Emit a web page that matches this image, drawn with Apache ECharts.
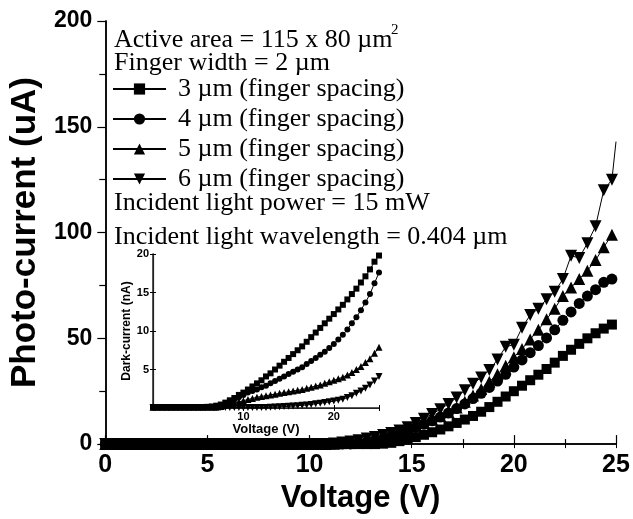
<!DOCTYPE html>
<html>
<head>
<meta charset="utf-8">
<title>Photo-current vs Voltage</title>
<script src="https://cdn.jsdelivr.net/npm/echarts@6.0.0/dist/echarts.min.js"></script>
<style>
  html, body { margin: 0; padding: 0; background: #fff; }
  #chart { width: 633px; height: 519px; }
</style>
</head>
<body>
<div id="chart"></div>
<script>
// ---- main plot data: photo-current (uA) vs voltage (V) ----
var voltage = [0.0, 0.4, 0.8, 1.2, 1.6, 2.0, 2.4, 2.8, 3.2, 3.6, 4.0, 4.4, 4.8, 5.2, 5.6, 6.0,
  6.4, 6.8, 7.2, 7.6, 8.0, 8.4, 8.8, 9.2, 9.6, 10.0, 10.4, 10.8, 11.2, 11.6, 12.0, 12.4,
  12.8, 13.2, 13.6, 14.0, 14.4, 14.8, 15.2, 15.6, 16.0, 16.4, 16.8, 17.2, 17.6, 18.0, 18.4,
  18.8, 19.2, 19.6, 20.0, 20.4, 20.8, 21.2, 21.6, 22.0, 22.4, 22.8, 23.2, 23.6, 24.0, 24.4, 24.8];

var photo3 = [0, 0, 0, 0, 0, 0, 0, 0, 0, 0, 0, 0, 0, 0, 0, 0,
  0, 0, 0, 0, 0, 0, 0, 0, 0, 0, 0, 0, 0, 0, 0, 0,
  0, 0, 0.2, 0.6, 1.4, 2.3, 3.3, 4.4, 5.6, 6.9, 8.4, 10.0, 11.6, 13.3, 15.3,
  17.5, 20.0, 22.5, 25.0, 27.6, 30.2, 32.8, 35.5, 38.5, 41.7, 44.6, 47.4, 50.0, 52.4, 54.6, 56.5];

var photo4 = [0, 0, 0, 0, 0, 0, 0, 0, 0, 0, 0, 0, 0, 0, 0, 0,
  0, 0, 0, 0, 0, 0, 0, 0, 0, 0, 0, 0, 0, 0, 0.1, 0.4,
  1.0, 1.8, 2.7, 3.8, 5.0, 6.4, 7.9, 9.4, 11.0, 12.8, 14.7, 16.8, 19.0, 21.5, 24.0,
  26.8, 29.8, 33.0, 36.4, 39.8, 43.2, 46.6, 50.2, 54.0, 58.5, 62.5, 66.5, 70.0, 73.0, 76.5, 78.0];

var photo5 = [0, 0, 0, 0, 0, 0, 0, 0, 0, 0, 0, 0, 0, 0, 0, 0,
  0, 0, 0, 0, 0, 0, 0, 0, 0, 0, 0, 0, 0.2, 0.5, 1.0, 1.5,
  2.2, 3.0, 3.9, 4.9, 6.0, 7.2, 8.5, 10.0, 11.6, 13.3, 15.2, 17.3, 20.0, 23.0, 26.0,
  29.5, 33.0, 37.0, 41.0, 45.0, 49.5, 54.0, 59.0, 64.0, 70.0, 74.0, 78.0, 82.0, 87.0, 93.0, 99.0];

var photo6 = [0, 0, 0, 0, 0, 0, 0, 0, 0, 0, 0, 0, 0, 0, 0, 0,
  0, 0, 0, 0, 0, 0, 0, 0, 0, 0, 0, 0, 0.3, 0.7, 1.2, 1.8,
  2.6, 3.4, 4.3, 5.3, 6.4, 8.0, 10.0, 12.0, 14.2, 16.5, 19.0, 22.0, 25.5, 28.5, 31.5,
  35.0, 40.0, 46.0, 47.0, 55.0, 61.0, 64.0, 68.5, 72.0, 78.0, 89.0, 88.0, 95.0, 103.0, 120.0, 125.0];
// last reading of the 6 um curve, the line runs up to it at the axis edge
var photo6End = [25.0, 143];

// ---- inset data: dark-current (nA) vs voltage (V) ----
var insetVoltage = [0, 0.5, 1, 1.5, 2, 2.5, 3, 3.5, 4, 4.5, 5, 5.5, 6, 6.5, 7, 7.5, 8, 8.5,
  9, 9.5, 10, 10.5, 11, 11.5, 12, 12.5, 13, 13.5, 14, 14.5, 15, 15.5, 16, 16.5, 17, 17.5,
  18, 18.5, 19, 19.5, 20, 20.5, 21, 21.5, 22, 22.5, 23, 23.5, 24, 24.5, 25];

var dark3 = [0.1, 0.1, 0.1, 0.1, 0.1, 0.1, 0.1, 0.1, 0.1, 0.1, 0.1, 0.1, 0.15, 0.2, 0.3, 0.45,
  0.7, 1.0, 1.3, 1.7, 2.0, 2.4, 2.8, 3.2, 3.6, 4.1, 4.5, 5.0, 5.5, 6.0, 6.5, 7.0, 7.5, 8.0,
  8.6, 9.2, 9.8, 10.4, 11.0, 11.6, 12.2, 12.8, 13.4, 14.1, 14.8, 15.5, 16.3, 17.1, 18.0, 19.0, 19.8];

var dark4 = [0.1, 0.1, 0.1, 0.1, 0.1, 0.1, 0.1, 0.1, 0.1, 0.1, 0.1, 0.1, 0.1, 0.1, 0.1, 0.3,
  0.5, 0.8, 1.1, 1.4, 1.7, 2.0, 2.2, 2.4, 2.7, 2.9, 3.2, 3.5, 3.8, 4.1, 4.4, 4.7, 5.0, 5.3,
  5.7, 6.1, 6.5, 6.9, 7.3, 7.8, 8.3, 8.9, 9.5, 10.2, 11.0, 11.8, 12.7, 13.7, 14.8, 16.2, 17.6];

var dark5 = [0.1, 0.1, 0.1, 0.1, 0.1, 0.1, 0.1, 0.1, 0.1, 0.1, 0.1, 0.1, 0.1, 0.1, 0.1, 0.2,
  0.35, 0.5, 0.65, 0.8, 0.95, 1.1, 1.25, 1.4, 1.5, 1.6, 1.7, 1.8, 1.9, 2.0, 2.1, 2.2, 2.3, 2.4,
  2.55, 2.7, 2.85, 3.0, 3.2, 3.4, 3.6, 3.8, 4.0, 4.3, 4.6, 5.0, 5.4, 5.9, 6.4, 7.1, 7.9];

var dark6 = [0.05, 0.05, 0.05, 0.05, 0.05, 0.05, 0.05, 0.05, 0.05, 0.05, 0.05, 0.05, 0.05,
  0.05, 0.05, 0.05, 0.05, 0.05, 0.05, 0.05, 0.05, 0.05, 0.05, 0.05, 0.05, 0.07, 0.1, 0.12,
  0.15, 0.18, 0.22, 0.26, 0.3, 0.35, 0.4, 0.47, 0.55, 0.63, 0.7, 0.8, 0.9, 1.0, 1.15, 1.35,
  1.6, 1.9, 2.2, 2.55, 3.0, 3.5, 4.1];

var seriesNames = ['3 µm (finger spacing)', '4 µm (finger spacing)', '5 µm (finger spacing)', '6 µm (finger spacing)'];
var notes = ['Active area = 115 x 80 µm', 'Finger width = 2 µm',
  'Incident light power = 15 mW', 'Incident light wavelength = 0.404 µm'];

var SANS = '"Liberation Sans", Arial, sans-serif';
var SERIF = '"Liberation Serif", "Times New Roman", serif';

function pairs(xs, ys) {
  var out = [];
  for (var i = 0; i < xs.length; i++) {
    out.push([xs[i], ys[i]]);
  }
  return out;
}

function curve(name, xs, ys, symbol, size, rotate, grid) {
  return {
    name: name,
    type: 'line',
    xAxisIndex: grid * 2,
    yAxisIndex: grid * 2,
    data: pairs(xs, ys),
    symbol: symbol,
    symbolSize: size,
    symbolRotate: rotate,
    showSymbol: true,
    clip: false,
    itemStyle: { color: '#000' },
    lineStyle: { color: '#000', width: 1 },
    emphasis: { disabled: true },
    animation: false
  };
}

var main6 = curve(seriesNames[3], voltage, photo6, 'triangle', 12, 180, 0);
main6.data.push({ value: photo6End, symbolSize: 0 });

var series = [
  curve(seriesNames[0], voltage, photo3, 'rect', 10, 0, 0),
  curve(seriesNames[1], voltage, photo4, 'circle', 11, 0, 0),
  curve(seriesNames[2], voltage, photo5, 'triangle', 12, 0, 0),
  main6,
  curve('inset 3', insetVoltage, dark3, 'rect', 6, 0, 1),
  curve('inset 4', insetVoltage, dark4, 'circle', 6, 0, 1),
  curve('inset 5', insetVoltage, dark5, 'triangle', 7, 0, 1),
  curve('inset 6', insetVoltage, dark6, 'triangle', 7, 180, 1)
];

var axisLine = { show: true, lineStyle: { color: '#000', width: 1.5 } };
var noLabel = { show: false };

var option = {
  backgroundColor: '#fff',
  animation: false,
  grid: [
    { left: 96, right: 17, top: 21, bottom: 71 },
    { left: 153, top: 254, width: 226, height: 154, show: true, backgroundColor: '#fff', borderWidth: 0 }
  ],
  xAxis: [
    {
      gridIndex: 0, type: 'value', min: 0, max: 25, interval: 5, position: 'bottom',
      axisLine: axisLine,
      axisTick: { inside: true, length: 9, lineStyle: { color: '#000', width: 1.2 } },
      minorTick: { show: true, splitNumber: 2, length: 5, lineStyle: { color: '#000', width: 1.2 } },
      splitLine: { show: false },
      axisLabel: { color: '#000', fontFamily: SANS, fontWeight: 'bold', fontSize: 25, margin: 9 },
      name: 'Voltage (V)', nameLocation: 'middle', nameGap: 30,
      nameTextStyle: { color: '#000', fontFamily: SANS, fontWeight: 'bold', fontSize: 31 }
    },
    {
      gridIndex: 0, type: 'value', min: 0, max: 25, interval: 5, position: 'top',
      axisLine: axisLine,
      axisTick: { inside: true, length: 4, lineStyle: { color: '#000' } },
      minorTick: { show: true, splitNumber: 2, length: 4, lineStyle: { color: '#000' } },
      splitLine: { show: false }, axisLabel: noLabel
    },
    {
      gridIndex: 1, type: 'value', min: 0, max: 25, interval: 10, position: 'bottom',
      axisLine: { show: true, lineStyle: { color: '#222', width: 1.5 } },
      axisTick: { inside: true, length: 3, lineStyle: { color: '#000' } },
      minorTick: { show: true, splitNumber: 2, length: 2, lineStyle: { color: '#000' } },
      splitLine: { show: false },
      axisLabel: {
        color: '#000', fontFamily: SANS, fontWeight: 'bold', fontSize: 11, margin: 3,
        showMinLabel: false, showMaxLabel: false
      },
      name: 'Voltage (V)', nameLocation: 'middle', nameGap: 10,
      nameTextStyle: { color: '#000', fontFamily: SANS, fontWeight: 'bold', fontSize: 13 }
    },
    {
      gridIndex: 1, type: 'value', min: 0, max: 25, interval: 10, position: 'top',
      axisLine: { show: true, lineStyle: { color: '#222', width: 1.2 } },
      axisTick: { inside: true, length: 3, lineStyle: { color: '#000' } },
      splitLine: { show: false }, axisLabel: noLabel
    }
  ],
  yAxis: [
    {
      gridIndex: 0, type: 'value', min: 0, max: 200, interval: 50, position: 'left',
      axisLine: axisLine,
      axisTick: { inside: false, length: 8, lineStyle: { color: '#000', width: 1.2 } },
      minorTick: { show: true, splitNumber: 2, length: 6, lineStyle: { color: '#000', width: 1.2 } },
      splitLine: { show: false },
      axisLabel: { color: '#000', fontFamily: SANS, fontWeight: 'bold', fontSize: 23, margin: 13 },
      name: 'Photo-current (uA)', nameLocation: 'middle', nameGap: 53,
      nameTextStyle: { color: '#000', fontFamily: SANS, fontWeight: 'bold', fontSize: 35 }
    },
    {
      gridIndex: 0, type: 'value', min: 0, max: 200, interval: 50, position: 'right',
      axisLine: axisLine,
      axisTick: { inside: true, length: 3, lineStyle: { color: '#000' } },
      minorTick: { show: true, splitNumber: 2, length: 3, lineStyle: { color: '#000' } },
      splitLine: { show: false }, axisLabel: noLabel
    },
    {
      gridIndex: 1, type: 'value', min: 0, max: 20, interval: 5, position: 'left',
      axisLine: { show: true, lineStyle: { color: '#222', width: 1.5 } },
      axisTick: { inside: true, length: 3, lineStyle: { color: '#000' } },
      splitLine: { show: false },
      axisLabel: {
        color: '#000', fontFamily: SANS, fontWeight: 'bold', fontSize: 11, margin: 4,
        showMinLabel: false
      },
      name: 'Dark-current (nA)', nameLocation: 'middle', nameGap: 11,
      nameTextStyle: { color: '#000', fontFamily: SANS, fontWeight: 'bold', fontSize: 12 }
    },
    {
      gridIndex: 1, type: 'value', min: 0, max: 20, interval: 5, position: 'right',
      axisLine: { show: true, lineStyle: { color: '#222', width: 1.2 } },
      axisTick: { inside: true, length: 3, lineStyle: { color: '#000' } },
      splitLine: { show: false }, axisLabel: noLabel
    }
  ],
  legend: {
    data: seriesNames,
    orient: 'vertical',
    left: 107, top: 71,
    itemWidth: 53, itemHeight: 14, itemGap: 4,
    selectedMode: false,
    textStyle: { color: '#000', fontFamily: SERIF, fontSize: 26, lineHeight: 26, padding: [0, 0, 0, 7] }
  },
  graphic: [
    { type: 'text', x: 114, y: 40, style: { text: notes[0], fill: '#000', font: '26px ' + SERIF, verticalAlign: 'middle' } },
    { type: 'text', x: 391, y: 30, style: { text: '2', fill: '#000', font: '15px ' + SERIF, verticalAlign: 'middle' } },
    { type: 'text', x: 114, y: 63, style: { text: notes[1], fill: '#000', font: '26px ' + SERIF, verticalAlign: 'middle' } },
    { type: 'text', x: 114, y: 203, style: { text: notes[2], fill: '#000', font: '26px ' + SERIF, verticalAlign: 'middle' } },
    { type: 'text', x: 114, y: 237, style: { text: notes[3], fill: '#000', font: '26px ' + SERIF, verticalAlign: 'middle' } }
  ],
  series: series
};

var myChart = echarts.init(document.getElementById('chart'), null, { renderer: 'canvas' });
myChart.setOption(option);
</script>
</body>
</html>
